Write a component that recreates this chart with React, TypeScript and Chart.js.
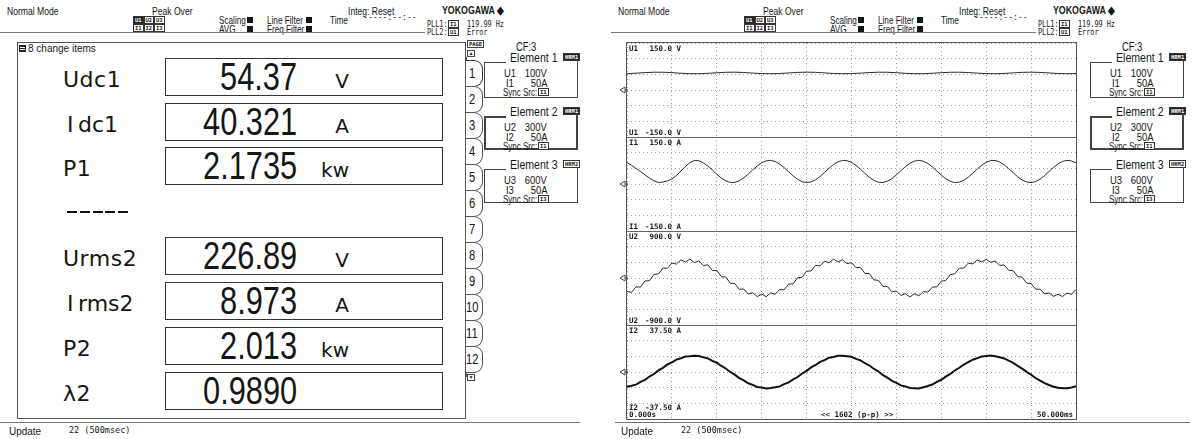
import React, { useEffect, useRef } from "react";
import { Chart, registerables } from "chart.js";
Chart.register(...registerables);

// ---------- numeric display (left screen) ----------
const numericLabels = ["Udc1", "Idc1", "P1", "-----", "Urms2", "Irms2", "P2", "λ2"];
const numericValues = ["54.37", "40.321", "2.1735", "", "226.89", "8.973", "2.013", "0.9890"];
const numericUnits = ["V", "A", "kw", "", "V", "A", "kw", ""];
const pageTabs = ["1", "2", "3", "4", "5", "6", "7", "8", "9", "10", "11", "12"];

// ---------- element settings ----------
const elementNames = ["Element 1", "Element 2", "Element 3"];
const elementBadges = ["HRM1", "HRM1", "HRM2"];
const elementU = ["U1", "U2", "U3"];
const elementURange = ["100V", "300V", "600V"];
const elementI = ["I1", "I2", "I3"];
const elementIRange = ["50A", "50A", "50A"];
const elementSync = ["I1", "I1", "I3"];

// ---------- waveform data (time in ms) ----------
const timeCoarse = [0, 1, 2, 3, 4, 5, 6, 7, 8, 9, 10, 11, 12, 13, 14, 15, 16, 17, 18, 19, 20, 21, 22, 23, 24, 25, 26, 27, 28, 29, 30, 31, 32, 33, 34, 35, 36, 37, 38, 39, 40, 41, 42, 43, 44, 45, 46, 47, 48, 49, 50];
const timeFine = [0, 0.5, 1, 1.5, 2, 2.5, 3, 3.5, 4, 4.5, 5, 5.5, 6, 6.5, 7, 7.5, 8, 8.5, 9, 9.5, 10, 10.5, 11, 11.5, 12, 12.5, 13, 13.5, 14, 14.5, 15, 15.5, 16, 16.5, 17, 17.5, 18, 18.5, 19, 19.5, 20, 20.5, 21, 21.5, 22, 22.5, 23, 23.5, 24, 24.5, 25, 25.5, 26, 26.5, 27, 27.5, 28, 28.5, 29, 29.5, 30, 30.5, 31, 31.5, 32, 32.5, 33, 33.5, 34, 34.5, 35, 35.5, 36, 36.5, 37, 37.5, 38, 38.5, 39, 39.5, 40, 40.5, 41, 41.5, 42, 42.5, 43, 43.5, 44, 44.5, 45, 45.5, 46, 46.5, 47, 47.5, 48, 48.5, 49, 49.5, 50];

const u1Values = [52.2, 53.7, 55.5, 56.8, 56.7, 55.4, 53.5, 52.2, 52.0, 53.2, 55.0, 56.5, 56.9, 55.9, 54.1, 52.5, 51.9, 52.7, 54.5, 56.2, 56.9, 56.3, 54.6, 52.8, 51.9, 52.4, 53.9, 55.7, 56.8, 56.6, 55.2, 53.3, 52.1, 52.1, 53.4, 55.2, 56.6, 56.8, 55.7, 53.9, 52.3, 51.9, 52.9, 54.7, 56.3, 56.9, 56.1, 54.4, 52.7, 51.9, 52.5];

const i1Values = [68, 60, 50, 40, 29, 19, 10, 5, 6, 10, 16, 27, 41, 56, 68, 75, 74.5,
  67.5, 57.3, 44.6, 31.2, 19.1, 10.0, 5.1, 5.2, 10.1, 19.4, 31.5, 44.9, 57.5, 67.7, 73.9, 75.4,
  71.8, 63.7, 52.2, 39.1, 26.0, 15.0, 7.4, 4.5, 6.6, 13.4, 24.1, 36.9, 50.2, 62.3, 70.8, 75.1,
  74.5, 69.0, 59.4, 47.1, 33.7, 21.3, 11.4, 5.7, 4.8, 8.9, 17.4, 29.1, 42.3, 55.3, 66.0, 73.1,
  75.5, 72.8, 65.5, 54.6, 41.6, 28.4, 16.8, 8.5, 4.7, 5.8, 11.9, 21.9, 34.5, 47.8, 60.1, 69.5,
  74.7, 75.0, 70.4, 61.4, 49.4, 36.1, 23.3, 12.9, 6.3, 4.5, 7.8, 15.6, 26.8, 39.9, 53.1, 64.4,
  72.2, 75.4, 73.7, 67.2];

const u2Values = [-257, -275, -171, -173, -57, -50, 69, 76, 190, 186, 287, 267, 348, 305, 362, 295, 329, 239, 252, 145, 144, 26, 19, -100, -105, -217, -210, -306, -281, -356, -307, -358, -285,
  -313, -219, -227, -117, -113, 6, 13, 132, 134, 242, 231, 323, 292, 361, 306, 351, 273, 295, 196, 201, 88, 82, -37, -44, -161, -161, -266, -250, -337, -300, -363, -302, -341,
  -261, -271, -175, -169, -61, -46, 65, 80, 186, 190, 283, 271, 344, 309, 358, 299, 325, 243, 248, 149, 140, 30, 15, -96, -109, -213, -214, -302, -285, -352, -311, -354, -289,
  -313, -219];

const i2Values = [-11.8, -11.0, -10.1, -7.9, -6.3, -3.6, -1.6, 1.3, 3.3, 6.0, 7.7, 9.9, 11.0, 12.4, 12.6, 13.0, 12.8, 11.7, 10.9, 8.9, 7.4, 4.8, 2.8, 0.0, -2.1, -4.9, -6.7, -9.0, -10.3, -11.9, -12.4, -13.1, -12.8,
  -12.2, -11.5, -9.7, -8.3, -5.9, -4.0, -1.2, 0.9, 3.7, 5.6, 8.1, 9.5, 11.4, 12.0, 12.9, 12.9, 12.6, 12.1, 10.5, 9.3, 7.0, 5.2, 2.4, 0.4, -2.5, -4.5, -7.1, -8.6, -10.7, -11.5, -12.8, -12.9, -13.1,
  -12.1, -11.2, -10.0, -7.9, -6.2, -3.7, -1.5, 1.2, 3.4, 5.9, 7.8, 9.8, 11.1, 12.3, 12.7, 13.1, 12.6, 11.8, 10.8, 9.0, 7.3, 4.9, 2.7, 0.1, -2.2, -4.8, -6.8, -8.9, -10.4, -11.8, -12.5, -13.0, -12.9,
  -12.3, -11.3];

const channelNames = ["U1", "I1", "U2", "I2"];
const channelRange = [150, 150, 900, 37.5];
const rangeTopLabels = ["150.0 V", "150.0 A", "900.0 V", "37.50 A"];
const rangeBottomLabels = ["-150.0 V", "-150.0 A", "-900.0 V", "-37.50 A"];
const channelTimes = [timeCoarse, timeFine, timeFine, timeFine];
const channelValues = [u1Values, i1Values, u2Values, i2Values];
const channelWidths = [1, 1, 1, 2];
const channelColors = ["#2a2a2a", "#2a2a2a", "#2a2a2a", "#111111"];

// ---------- fonts ----------
const FS = '"Liberation Sans",Arial,sans-serif';
const FD = '"DejaVu Sans",sans-serif';
const FM = '"DejaVu Sans Mono","Liberation Mono",monospace';
const INK = "#151515";
const NAR = 0.78;

type TP = { x: number; y: number; s: number; f?: string; w?: number | string; right?: boolean; sx?: number; children?: any; style?: any };
function T({ x, y, s, f = FS, w = 400, right = false, sx = NAR, children, style }: TP) {
  const st: any = {
    position: "absolute", top: y, fontSize: s, fontFamily: f, fontWeight: w, lineHeight: 1,
    whiteSpace: "nowrap", color: INK, transform: sx !== 1 ? `scaleX(${sx})` : undefined,
    transformOrigin: right ? "right center" : "left center", ...style,
  };
  if (right) { st.right = 1194 - x; } else { st.left = x; }
  return <div style={st}>{children}</div>;
}

function Line({ x, y, w, h, c = "#555" }: any) {
  return <div style={{ position: "absolute", left: x, top: y, width: w, height: h, background: c }} />;
}

function Sq({ x, y }: any) {
  return <div style={{ position: "absolute", left: x, top: y, width: 6, height: 6, background: INK }} />;
}

function Chip({ x, y, text, dark = false }: any) {
  return (
    <div style={{ position: "absolute", left: x, top: y, height: 6, padding: "0 1px", border: "1px solid #333", background: dark ? "#222" : "#fff",
      color: dark ? "#fff" : "#222", fontFamily: FM, fontWeight: 700, fontSize: 5.5, lineHeight: "6px" }}>{text}</div>
  );
}

function Header({ ox }: { ox: number }) {
  return (
    <>
      <T x={ox + 7} y={5.6} s={11}>Normal Mode</T>
      <T x={ox + 152} y={5.6} s={11}>Peak Over</T>
      {["U1", "U2", "U3"].map((t, i) => <Chip key={t} x={ox + 133 + i * 10.5} y={16} text={t} dark={i === 0} />)}
      {["I1", "I2", "I3"].map((t, i) => <Chip key={t} x={ox + 133 + i * 10.5} y={24} text={t} />)}
      <T x={ox + 219} y={15} s={10.5}>Scaling</T>
      <Sq x={ox + 247} y={17} />
      <T x={ox + 219} y={23.5} s={10.5}>AVG</T>
      <Sq x={ox + 247} y={25.5} />
      <T x={ox + 267} y={15} s={10.5}>Line Filter</T>
      <Sq x={ox + 306} y={17} />
      <T x={ox + 267} y={23.5} s={10.5}>Freq Filter</T>
      <Sq x={ox + 306} y={25.5} />
      <T x={ox + 330} y={15} s={10.5}>Time</T>
      <T x={ox + 363} y={13} s={9} f={FM} sx={0.9}>-----:--:--</T>
      <T x={ox + 348} y={5.6} s={11}>Integ: Reset</T>
      <T x={ox + 442} y={5.2} s={11} w={700} sx={0.8}>YOKOGAWA ◆</T>
      <T x={ox + 427} y={19.5} s={8.5} f={FM} sx={0.8}>PLL1:</T>
      <Chip x={ox + 448} y={19.5} text="I1" />
      <T x={ox + 467} y={19.5} s={8.5} f={FM} sx={0.8}>119.99 Hz</T>
      <T x={ox + 427} y={27.5} s={8.5} f={FM} sx={0.8}>PLL2:</T>
      <Chip x={ox + 448} y={27.5} text="U1" />
      <T x={ox + 467} y={27.5} s={8.5} f={FM} sx={0.8}>Error</T>
      <Line x={ox} y={32} w={425} h={1} c="#777" />
    </>
  );
}

function Elements({ ox }: { ox: number }) {
  const tops = [62, 116, 169];
  const hs = [36, 34, 34];
  return (
    <>
      <T x={ox + 32} y={40.5} s={12.5} sx={0.75}>CF:3</T>
      {elementNames.map((n, k) => {
        const t = tops[k];
        const bw = k === 1 ? 2 : 1;
        return (
          <React.Fragment key={n}>
            <T x={ox + 26} y={t - 10} s={12} sx={0.88}>{n}</T>
            <Chip x={ox + 79} y={t - 9} text={elementBadges[k]} dark={k !== 2} />
            <div style={{ position: "absolute", left: ox, top: t, width: 94, height: hs[k], boxSizing: "border-box",
              borderLeft: `${bw}px solid #444`, borderRight: `${bw}px solid #444`, borderBottom: `${bw}px solid #444` }} />
            <Line x={ox} y={t} w={22} h={bw} c="#444" />
            <Line x={ox + 94 - bw} y={t - 2} w={bw} h={3} c="#444" />
            <T x={ox + 20} y={t + 5.5} s={11.5} sx={0.82}>{elementU[k]}</T>
            <T x={ox + 63} y={t + 5.5} s={11.5} sx={0.82} right>{elementURange[k]}</T>
            <T x={ox + 22} y={t + 16} s={11.5} sx={0.82}>{elementI[k]}</T>
            <T x={ox + 63} y={t + 16} s={11.5} sx={0.82} right>{elementIRange[k]}</T>
            <T x={ox + 19} y={t + 26} s={10} sx={0.8}>Sync Src:</T>
            <Chip x={ox + 54} y={t + 26} text={elementSync[k]} />
          </React.Fragment>
        );
      })}
    </>
  );
}

function NumericScreen() {
  const boxTops = [58, 103, 147, 192, 237, 282, 327, 372];
  return (
    <>
      <Header ox={0} />
      <div style={{ position: "absolute", left: 17, top: 42, width: 449, height: 377, boxSizing: "border-box", border: "1px solid #555" }} />
      <div style={{ position: "absolute", left: 19, top: 45, width: 7, height: 7, background: "#222" }} />
      <Line x={20} y={47} w={5} h={1} c="#fff" />
      <Line x={20} y={49} w={5} h={1} c="#fff" />
      <T x={28} y={44} s={10} sx={1}>8 change items</T>
      {numericLabels.map((lab, i) => {
        const top = boxTops[i];
        if (lab === "-----") {
          return (
            <React.Fragment key={i}>
              {[0, 1, 2, 3, 4].map((d) => <Line key={d} x={67 + d * 12.8} y={211} w={10} h={2} c="#111" />)}
            </React.Fragment>
          );
        }
        const isI = lab[0] === "I";
        return (
          <React.Fragment key={i}>
            {isI ? (
              <>
                <T x={67} y={top + 11} s={22} f={FD} sx={1}>I</T>
                <T x={78} y={top + 11} s={22} f={FD} sx={1}>{lab.slice(1)}</T>
              </>
            ) : (
              <T x={63} y={top + 11} s={22} f={FD} sx={1} style={{ letterSpacing: 0.5 }}>{lab}</T>
            )}
            <div style={{ position: "absolute", left: 165, top, width: 278, height: 38, boxSizing: "border-box", border: "1.5px solid #333" }} />
            <T x={297} y={top} s={38} sx={0.81} right>{numericValues[i]}</T>
            {numericUnits[i] ? <T x={349} y={top + 13.4} s={20} f={FD} sx={1} right>{numericUnits[i]}</T> : null}
          </React.Fragment>
        );
      })}
      {/* page tabs */}
      <div style={{ position: "absolute", left: 467, top: 40, width: 17, height: 8, boxSizing: "border-box", border: "1px solid #444",
        fontFamily: FM, fontWeight: 700, fontSize: 5.5, lineHeight: "6px", textAlign: "center", color: "#222" }}>PAGE</div>
      <div style={{ position: "absolute", left: 467, top: 50, width: 8, height: 7, boxSizing: "border-box", border: "1px solid #444",
        fontSize: 5, lineHeight: "5px", textAlign: "center", color: "#222" }}>▲</div>
      <Line x={466} y={57} w={1} h={320} c="#555" />
      {pageTabs.map((p, i) => (
        <div key={p} style={{ position: "absolute", left: 466, top: 60 + i * 26, width: 17, height: 27, boxSizing: "border-box",
          border: i === 0 ? "1.5px solid #333" : "1px solid #555", borderLeft: "none", borderRadius: "0 9px 9px 0", background: "#fff",
          fontFamily: FS, fontSize: 14, lineHeight: "25px", textAlign: "left", color: INK }}>
          <span style={{ display: "inline-block", transform: "scaleX(0.8)", transformOrigin: "left center", marginLeft: p.length > 1 ? 0 : 3 }}>{p}</span>
        </div>
      ))}
      <div style={{ position: "absolute", left: 467, top: 374, width: 8, height: 7, boxSizing: "border-box", border: "1px solid #444",
        fontSize: 5, lineHeight: "5px", textAlign: "center", color: "#222" }}>▼</div>
      <Elements ox={484} />
      <Line x={0} y={422} w={580} h={1} c="#777" />
      <T x={9} y={425.5} s={10.5} sx={0.95}>Update</T>
      <T x={69} y={426} s={8.5} f={FM}  sx={1}>22 (500msec)</T>
    </>
  );
}

function Wave({ idx }: { idx: number }) {
  const ref = useRef<HTMLCanvasElement>(null);
  useEffect(() => {
    const times = channelTimes[idx];
    const vals = channelValues[idx];
    const r = channelRange[idx];
    const grid = { color: "#9c9c9c", drawTicks: false, tickLength: 0, lineWidth: 1 };
    const border = { display: false, dash: [1, 3] };
    const chart = new Chart(ref.current as HTMLCanvasElement, {
      type: "line",
      data: {
        datasets: [{
          data: times.map((t, i) => ({ x: t, y: vals[i] })),
          borderColor: channelColors[idx], borderWidth: channelWidths[idx], pointRadius: 0, tension: 0, fill: false,
        }],
      },
      options: {
        animation: false, responsive: false, devicePixelRatio: 1, events: [],
        layout: { padding: 0 },
        plugins: { legend: { display: false }, tooltip: { enabled: false } },
        scales: {
          x: { type: "linear", min: 0, max: 50, ticks: { display: false, stepSize: 5 }, grid, border },
          y: { type: "linear", min: -r, max: r, ticks: { display: false, stepSize: r / 3 }, grid, border },
        },
      } as any,
    });
    return () => chart.destroy();
  }, [idx]);
  return <canvas ref={ref} width={449} height={94} style={{ position: "absolute", left: 627, top: 43 + 94 * idx, width: 449, height: 94 }} />;
}

function GroundMark({ y }: { y: number }) {
  return (
    <svg style={{ position: "absolute", left: 619, top: y - 4 }} width={9} height={8}>
      <path d="M1 4 L6 1 L6 7 Z" fill="none" stroke="#444" strokeWidth={1} />
      <path d="M6 4 L9 4" stroke="#444" strokeWidth={1} />
    </svg>
  );
}

function WaveScreen() {
  return (
    <>
      <Header ox={611} />
      {channelNames.map((c, i) => <Wave key={c} idx={i} />)}
      <div style={{ position: "absolute", left: 626, top: 42, width: 451, height: 378, boxSizing: "border-box", border: "1.5px solid #555" }} />
      {[1, 2, 3].map((k) => <Line key={k} x={627} y={42.5 + 94 * k} w={449} h={1} c="#666" />)}
      {channelNames.map((c, i) => {
        const top = 43 + 94 * i;
        const by = i === 3 ? 79 : 85.5;
        return (
          <React.Fragment key={c}>
            <GroundMark y={top + 47} />
            <T x={629} y={top + 1.5} s={7.5} f={FM} w={700} sx={1}>{c}</T>
            <T x={681} y={top + 1.5} s={7.5} f={FM} w={700} sx={1} right>{rangeTopLabels[i]}</T>
            <T x={629} y={top + by} s={7.5} f={FM} w={700} sx={1}>{c}</T>
            <T x={681} y={top + by} s={7.5} f={FM} w={700} sx={1} right>{rangeBottomLabels[i]}</T>
          </React.Fragment>
        );
      })}
      <T x={629} y={411} s={7.5} f={FM} w={700} sx={1}>0.000s</T>
      <T x={821} y={411} s={7.5} f={FM} w={700} sx={1}>{"<< 1602 (p-p) >>"}</T>
      <T x={1073} y={411} s={7.5} f={FM} w={700} sx={1} right>50.000ms</T>
      <Elements ox={1090} />
      <Line x={615} y={422} w={575} h={1} c="#777" />
      <T x={621} y={425.5} s={10.5} sx={0.95}>Update</T>
      <T x={681} y={426} s={8.5} f={FM} sx={1}>22 (500msec)</T>
    </>
  );
}

export default function App() {
  return (
    <div style={{ position: "fixed", left: 0, top: 0, width: 1194, height: 439, background: "#fff", overflow: "hidden" }}>
      <NumericScreen />
      <WaveScreen />
    </div>
  );
}
